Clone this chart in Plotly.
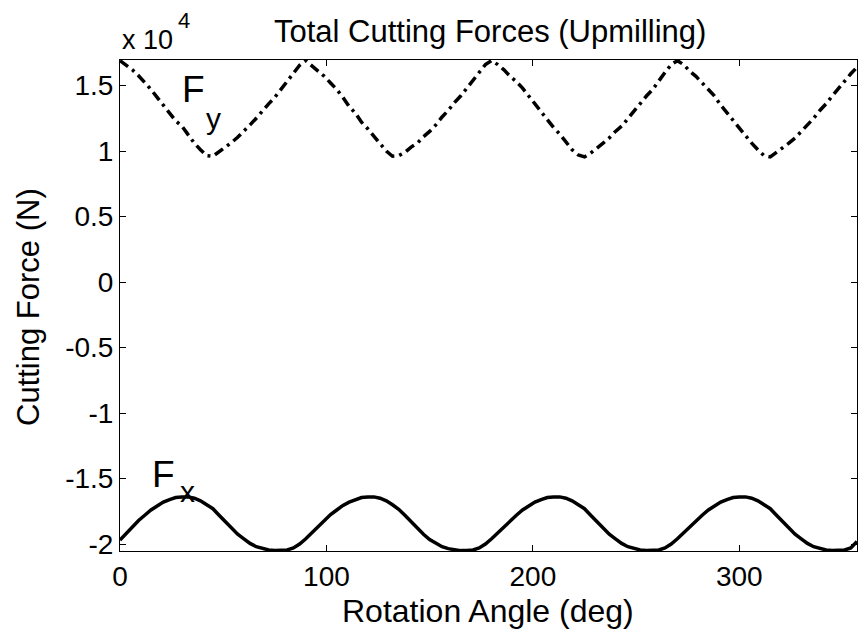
import plotly.graph_objects as go

# Rotation angle (deg)
angle = list(range(0, 360, 3))

# Total cutting forces (x 10^4 N)
fy = [1.69,1.655,1.62,1.575,1.525,1.47,1.41,1.35,1.28,1.23,1.19,1.12,1.06,1.01,0.965,0.96,0.995,1.025,1.065,1.105,1.15,1.2,1.25,1.31,1.36,1.41,1.47,1.53,1.60,1.655,
      1.69,1.65,1.61,1.57,1.52,1.47,1.41,1.34,1.29,1.22,1.17,1.11,1.06,1.0,0.96,0.965,0.99,1.03,1.06,1.11,1.15,1.2,1.26,1.31,1.37,1.42,1.48,1.54,1.6,1.66,
      1.69,1.66,1.62,1.57,1.53,1.48,1.42,1.36,1.29,1.24,1.18,1.13,1.07,1.01,0.97,0.955,0.985,1.02,1.06,1.1,1.15,1.19,1.25,1.3,1.36,1.42,1.47,1.54,1.6,1.66,
      1.69,1.66,1.61,1.57,1.52,1.47,1.42,1.35,1.29,1.23,1.18,1.12,1.06,1.01,0.965,0.955,0.99,1.02,1.06,1.1,1.15,1.2,1.25,1.31,1.36,1.42,1.48,1.53,1.59,1.64]
fx = [-1.97,-1.92,-1.87,-1.82,-1.78,-1.74,-1.71,-1.68,-1.66,-1.645,-1.64,-1.64,-1.65,-1.67,-1.70,-1.73,-1.78,-1.83,-1.88,-1.925,-1.96,-1.995,-2.02,-2.035,-2.045,-2.05,-2.05,-2.045,-2.03,-2.0,
      -1.96,-1.915,-1.865,-1.82,-1.775,-1.74,-1.705,-1.68,-1.66,-1.645,-1.64,-1.64,-1.65,-1.67,-1.70,-1.735,-1.78,-1.83,-1.88,-1.925,-1.965,-1.995,-2.02,-2.035,-2.045,-2.05,-2.05,-2.045,-2.03,-2.0,
      -1.96,-1.915,-1.87,-1.82,-1.78,-1.74,-1.71,-1.68,-1.66,-1.645,-1.64,-1.64,-1.65,-1.67,-1.70,-1.73,-1.78,-1.83,-1.88,-1.925,-1.96,-1.995,-2.02,-2.035,-2.045,-2.05,-2.05,-2.045,-2.03,-2.0,
      -1.96,-1.915,-1.87,-1.82,-1.78,-1.74,-1.71,-1.68,-1.66,-1.645,-1.64,-1.64,-1.65,-1.67,-1.70,-1.73,-1.78,-1.83,-1.88,-1.925,-1.96,-1.995,-2.02,-2.035,-2.045,-2.05,-2.05,-2.045,-2.03,-1.98]
fy_n = [v * 1e4 for v in fy]
fx_n = [v * 1e4 for v in fx]

x_ticks = [0, 100, 200, 300]
y_ticks = [-20000, -15000, -10000, -5000, 0, 5000, 10000, 15000]
y_tick_text = ["-2", "-1.5", "-1", "-0.5", "0", "0.5", "1", "1.5"]

FONT = "Liberation Sans, Arial, sans-serif"
W, H = 859, 638
L, R, T, B = 120, 2, 60, 87
pw, ph = W - L - R, H - T - B

def px(x):
    return (x - L) / pw

def py(y):
    return (H - B - y) / ph

fig = go.Figure()
fig.add_trace(go.Scatter(x=angle, y=fy_n, mode="lines",
                         line=dict(color="black", width=3.5, dash="10px,5px,3px,5px"),
                         showlegend=False))
fig.add_trace(go.Scatter(x=angle, y=fx_n, mode="lines",
                         line=dict(color="black", width=3.5),
                         showlegend=False))

axis_common = dict(showline=True, linecolor="black", linewidth=1, mirror="ticks",
                   ticks="inside", ticklen=6, tickcolor="black", tickwidth=1,
                   showgrid=False, zeroline=False, automargin=False,
                   tickfont=dict(family=FONT, size=28, color="black"))
fig.update_xaxes(range=[0, 357], tickvals=x_ticks, ticktext=[str(v) for v in x_ticks], **axis_common)
fig.update_yaxes(range=[-20530, 16950], tickvals=y_ticks, ticktext=y_tick_text, **axis_common)

ann = []
def add(text, x, y, size, angle_=0):
    ann.append(dict(text=text, x=px(x), y=py(y), xref="paper", yref="paper",
                    showarrow=False, xanchor="center", yanchor="middle",
                    textangle=angle_, font=dict(family=FONT, size=size, color="black")))

add("Total Cutting Forces (Upmilling)", 490, 32, 31)
add("Rotation Angle (deg)", 488, 611, 32)
add("Cutting Force (N)", 28, 307, 31, -90)
add("x 10", 147, 40, 27)
add("4", 184, 21, 22)
add("F", 193, 90, 37)
add("y", 213, 118, 30)
add("F", 163, 474, 37)
add("x", 187, 491, 30)

fig.update_layout(width=W, height=H, margin=dict(l=L, r=R, t=T, b=B),
                  paper_bgcolor="white", plot_bgcolor="white",
                  annotations=ann, font=dict(family=FONT, color="black"))
fig.write_html("out.html", config={"displayModeBar": False},
               post_script="document.body.style.margin='0';document.body.style.overflow='hidden';")
